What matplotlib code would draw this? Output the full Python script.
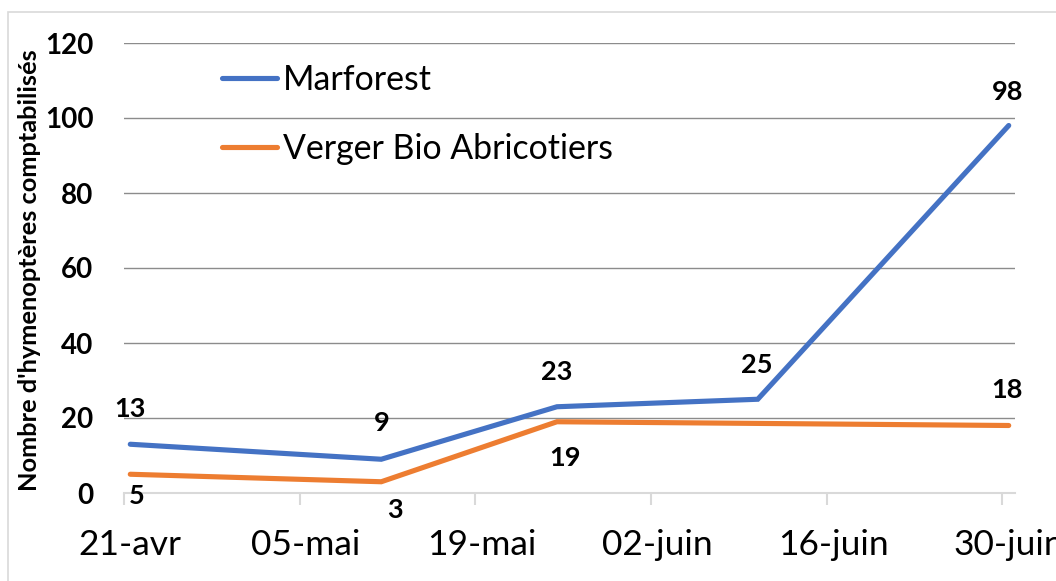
import matplotlib
matplotlib.use("Agg")
import matplotlib.pyplot as plt
from matplotlib.patches import Rectangle
import pandas as pd

# ---- data ----
marforest_dates = ["2021-04-21", "2021-05-11", "2021-05-25", "2021-06-10", "2021-06-30"]
marforest_vals = [13, 9, 23, 25, 98]
verger_dates = ["2021-04-21", "2021-05-11", "2021-05-25", "2021-06-30"]
verger_vals = [5, 3, 19, 18]
tick_dates = ["2021-04-21", "2021-05-05", "2021-05-19", "2021-06-02", "2021-06-16", "2021-06-30"]
tick_labels = ["21-avr", "05-mai", "19-mai", "02-juin", "16-juin", "30-juin"]
y_ticks = [0, 20, 40, 60, 80, 100, 120]
series_names = ["Marforest", "Verger Bio Abricotiers"]
ylabel = "Nombre d'hymenoptères comptabilisés"

BLUE = "#4472C4"
ORANGE = "#ED7D31"
FONT = "Lato"

plt.rcParams['font.family'] = [FONT, 'DejaVu Sans']

fig = plt.figure(figsize=(10.56, 5.81), dpi=100)
W, H = 1056, 581
ax = fig.add_axes([124 / W, 1 - 493 / H, (1015 - 124) / W, (493 - 43) / H])

# Excel date axis: points and labels sit at the middle of each day
half_day = pd.Timedelta(hours=12)
mx = pd.to_datetime(marforest_dates) + half_day
vx = pd.to_datetime(verger_dates) + half_day

l1, = ax.plot(mx, marforest_vals, color=BLUE, lw=3.7, solid_capstyle='round',
              solid_joinstyle='miter', zorder=3)
l2, = ax.plot(vx, verger_vals, color=ORANGE, lw=3.7, solid_capstyle='round',
              solid_joinstyle='miter', zorder=3)

# data labels
LBL = 19.5
m_offsets = [(0, 35), (0, 36), (0, 35), (-1, 34), (-1, 34)]
for x, y, off in zip(mx, marforest_vals, m_offsets):
    ax.annotate(str(y), (x, y), textcoords="offset pixels", xytext=off,
                ha='center', va='center', fontsize=LBL, fontweight='bold', color='black')
v_offsets = [(6, -22), (14, -28), (8, -36), (-2, 35)]
for x, y, off in zip(vx, verger_vals, v_offsets):
    ax.annotate(str(y), (x, y), textcoords="offset pixels", xytext=off,
                ha='center', va='center', fontsize=LBL, fontweight='bold', color='black')

ax.set_xlim(pd.Timestamp("2021-04-21"), pd.Timestamp("2021-07-01"))
ax.set_ylim(0, 120)
ax.set_yticks(y_ticks)
ax.set_yticklabels([str(v) for v in y_ticks], fontsize=20, fontweight='bold')

tdates = pd.to_datetime(tick_dates)
ax.set_xticks(tdates)
ax.set_xticklabels([])
ax.set_xticks(tdates + half_day, minor=True)
ax.set_xticklabels(tick_labels, minor=True, fontsize=25.5)

ax.grid(axis='y', color='#8c8c8c', lw=1.0)
ax.set_axisbelow(True)
for s in ['top', 'right', 'left']:
    ax.spines[s].set_visible(False)
ax.spines['bottom'].set_color('#d9d9d9')
ax.spines['bottom'].set_linewidth(1.5)
ax.tick_params(axis='y', which='both', length=0, pad=22)
ax.tick_params(axis='x', which='major', length=8.6, width=1.5, color='#d9d9d9', direction='out')
ax.tick_params(axis='x', which='minor', length=0, pad=14 + 8.6 + 3.5)

fig.text(30 / W, 1 - 270 / H, ylabel, rotation=90, ha='center', va='center',
         fontsize=18.3, fontweight='bold')

leg = ax.legend([l1, l2], series_names, loc='upper left',
                bbox_to_anchor=(222 / W, 1 - 64 / H), bbox_transform=fig.transFigure,
                frameon=False, fontsize=24.4, handlelength=1.62, handletextpad=0.17,
                labelspacing=1.08, borderaxespad=0, borderpad=0)

fig.patches.append(Rectangle((8 / W, -1), 2, 1 + (1 - 12 / H), transform=fig.transFigure,
                             fill=False, edgecolor='#d9d9d9', lw=1.2, zorder=0))

fig.savefig("out.png", dpi=100)
